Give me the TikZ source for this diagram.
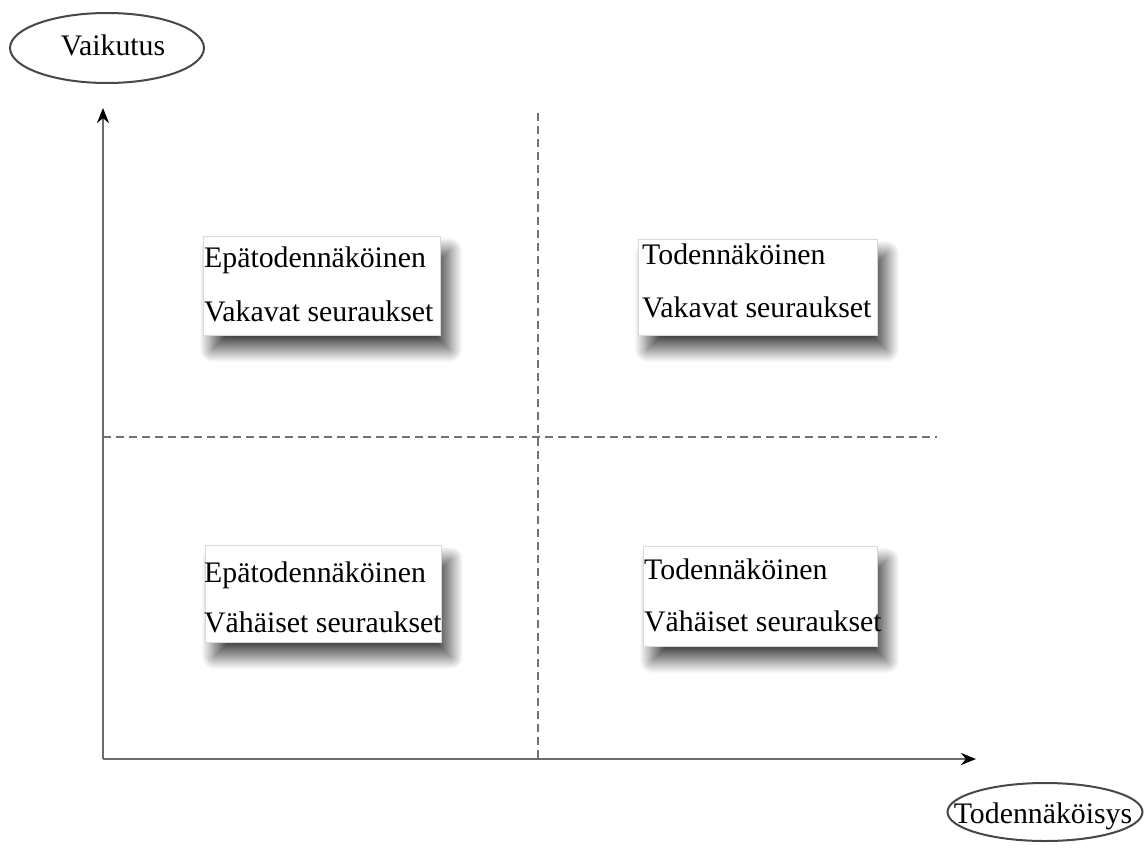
\documentclass[tikz,border=0pt]{standalone}
\usepackage{fontspec}
\setmainfont{Liberation Serif}
\usetikzlibrary{arrows.meta,shadows.blur,shapes.geometric}

\begin{document}
\begin{tikzpicture}[x=1pt,y=-1pt,
  txt/.style={font=\fontsize{29.8}{34}\selectfont, anchor=base west, inner sep=0pt},
  lbl/.style={font=\fontsize{29.8}{34}\selectfont, anchor=base, inner sep=0pt},
  card/.style={draw=black!15, line width=1pt, fill=white, anchor=north west,
    inner sep=0pt,
    blur shadow={shadow xshift=9pt, shadow yshift=-14pt,
                 shadow blur radius=13pt, shadow blur steps=30,
                 shadow opacity=72}},
  axis/.style={draw=black!58, line width=2.8pt,
    -{Stealth[length=15pt,width=12pt,black]}},
  split/.style={draw=black!55, line width=2.6pt, dash pattern=on 8pt off 5pt},
  tag/.style={ellipse, draw=black!72, line width=2pt, inner sep=0pt}
]
\useasboundingbox (0,0) rectangle (1146,852);

% axis end points and quadrant dividers
\coordinate (o)  at (103,759);
\coordinate (yt) at (103,108);
\coordinate (xt) at (976,759);
\coordinate (vtop) at (538,113);
\coordinate (vbot) at (538,759);
\coordinate (hl) at (103,437);
\coordinate (hr) at (937,437);

% dashed quadrant dividers
\draw[split] (vtop) -- (vbot);
\draw[split] (hl) -- (hr);

% axes
\draw[axis] (o) -- (yt);
\draw[axis] (o) -- (xt);

% axis labels
\node[tag, minimum width=194pt, minimum height=70pt] (vaik) at (107,48) {};
\node[lbl] (vaiktxt) at (113,55) {Vaikutus};
\node[tag, minimum width=195pt, minimum height=58pt] (tod) at (1045,812) {};
\node[lbl] (todtxt) at (1043,823) {Todennäköisys};

% quadrant cards
\node[card, minimum width=237pt, minimum height=99pt] (tl) at (203,236) {};
\node[card, minimum width=239pt, minimum height=96pt] (tr) at (638,239) {};
\node[card, minimum width=236pt, minimum height=97pt] (bl) at (205,545) {};
\node[card, minimum width=234pt, minimum height=100pt] (br) at (643,546) {};

\node[txt] (tl1) at (204,267) {Epätodennäköinen};
\node[txt] (tl2) at (204,321) {Vakavat seuraukset};
\node[txt] (tr1) at (642,264) {Todennäköinen};
\node[txt] (tr2) at (642,317) {Vakavat seuraukset};
\node[txt] (bl1) at (204,582) {Epätodennäköinen};
\node[txt] (bl2) at (204,632) {Vähäiset seuraukset};
\node[txt] (br1) at (644,579) {Todennäköinen};
\node[txt] (br2) at (644,631) {Vähäiset seuraukset};
\end{tikzpicture}
\end{document}
